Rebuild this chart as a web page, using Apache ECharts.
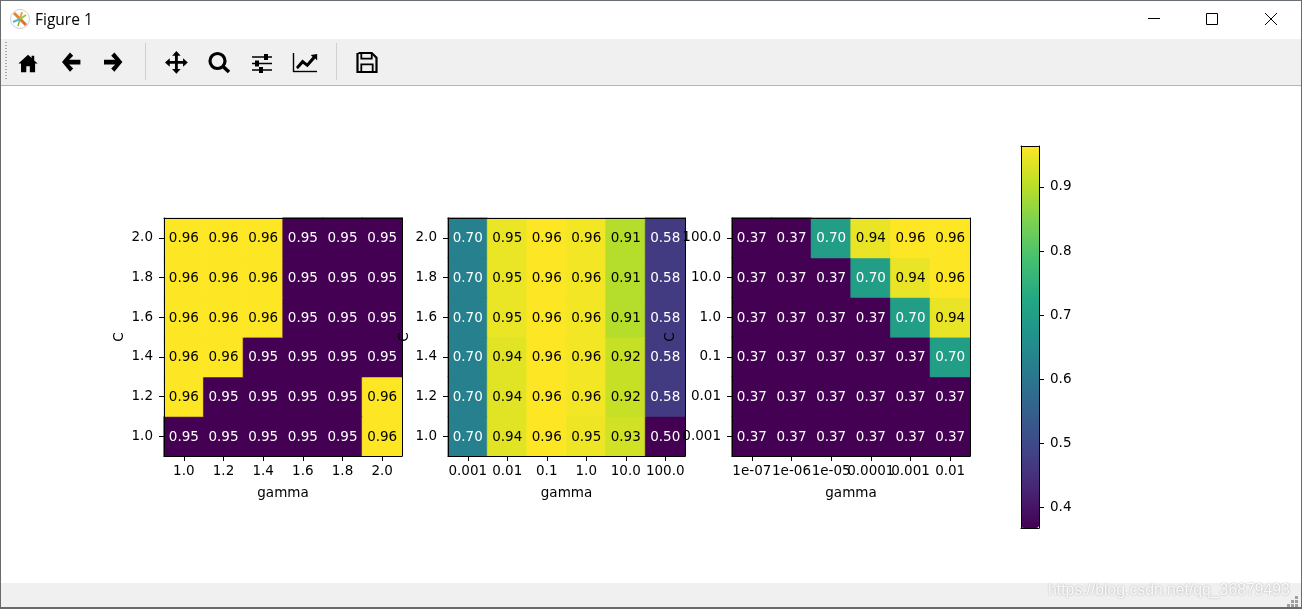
<!DOCTYPE html>
<html>
<head>
<meta charset="utf-8">
<title>Figure 1</title>
<style>html,body{margin:0;padding:0;background:#fff;overflow:hidden}#c{width:1302px;height:609px}</style>
<script src="https://cdn.jsdelivr.net/npm/echarts@6/dist/echarts.min.js"></script>
</head>
<body>
<div id="c"></div>
<script>
// ---- tick labels ----
const gamma1 = ['1.0','1.2','1.4','1.6','1.8','2.0'];
const c1     = ['1.0','1.2','1.4','1.6','1.8','2.0'];
const gamma2 = ['0.001','0.01','0.1','1.0','10.0','100.0'];
const c2     = ['1.0','1.2','1.4','1.6','1.8','2.0'];
const gamma3 = ['1e-07','1e-06','1e-05','0.0001','0.001','0.01'];
const c3     = ['0.001','0.01','0.1','1.0','10.0','100.0'];
const colorbarTicks = [0.4,0.5,0.6,0.7,0.8,0.9];

// ---- values (rows listed bottom to top, as on the y axis) ----
const scores1 = [
  [0.95,0.95,0.95,0.95,0.95,0.96],
  [0.96,0.95,0.95,0.95,0.95,0.96],
  [0.96,0.96,0.95,0.95,0.95,0.95],
  [0.96,0.96,0.96,0.95,0.95,0.95],
  [0.96,0.96,0.96,0.95,0.95,0.95],
  [0.96,0.96,0.96,0.95,0.95,0.95]
];
const scores2 = [
  [0.70,0.944,0.964,0.953,0.932,0.50],
  [0.70,0.944,0.964,0.957,0.924,0.58],
  [0.70,0.944,0.964,0.957,0.924,0.58],
  [0.70,0.950,0.964,0.957,0.912,0.58],
  [0.70,0.950,0.964,0.957,0.912,0.58],
  [0.70,0.950,0.964,0.957,0.912,0.58]
];
const scores3 = [
  [0.3677,0.3677,0.3677,0.3677,0.3677,0.3677],
  [0.3677,0.3677,0.3677,0.3677,0.3677,0.3677],
  [0.3677,0.3677,0.3677,0.3677,0.3677,0.70],
  [0.3677,0.3677,0.3677,0.3677,0.70,0.945],
  [0.3677,0.3677,0.3677,0.70,0.945,0.964],
  [0.3677,0.3677,0.70,0.945,0.964,0.964]
];
const ranges = [[0.95,0.96],[0.50,0.964],[0.3677,0.964]];
const viridis = ['#440154','#482475','#414487','#355f8d','#2a788e','#21918c','#22a884','#44bf70','#7ad151','#bddf26','#fde725'];

const FONT = 'DejaVu Sans';
const FS = 13.5;
const panels = [
  {x:gamma1,y:c1,z:scores1,left:164,width:238,gap:38},
  {x:gamma2,y:c2,z:scores2,left:448,width:237,gap:37},
  {x:gamma3,y:c3,z:scores3,left:732,width:238,gap:55}
];
const TOP = 218, H = 238;
const grid=[], xAxis=[], yAxis=[], series=[], visualMap=[];
const line = {show:true,lineStyle:{color:'#000',width:1}};
const noBits = {axisTick:{show:false},axisLabel:{show:false},splitLine:{show:false},splitArea:{show:false}};

panels.forEach((p,i)=>{
  grid.push({left:p.left,top:TOP,width:p.width,height:H,containLabel:false});
  xAxis.push({type:'category',gridIndex:i,data:p.x,position:'bottom',z:6,
    name:'gamma',nameLocation:'middle',nameGap:30,nameTextStyle:{fontFamily:FONT,fontSize:FS,color:'#000'},
    axisLine:line,axisTick:{show:true,alignWithLabel:true,length:5,lineStyle:{color:'#000'}},
    axisLabel:{interval:0,hideOverlap:false,fontFamily:FONT,fontSize:FS,color:'#000',margin:8},
    splitLine:{show:false}});
  xAxis.push(Object.assign({type:'category',gridIndex:i,data:p.x,position:'top',z:6,axisLine:line},noBits));
  yAxis.push({type:'category',gridIndex:i,data:p.y,position:'left',z:6,
    name:'C',nameLocation:'middle',nameRotate:90,nameGap:p.gap,nameTextStyle:{fontFamily:FONT,fontSize:FS,color:'#000'},
    axisLine:line,axisTick:{show:true,alignWithLabel:true,length:5,lineStyle:{color:'#000'}},
    axisLabel:{interval:0,hideOverlap:false,fontFamily:FONT,fontSize:FS,color:'#000',margin:11,padding:[5,0,0,0]},
    splitLine:{show:false}});
  yAxis.push(Object.assign({type:'category',gridIndex:i,data:p.y,position:'right',z:6,axisLine:line},noBits));
  const [lo,hi]=ranges[i];
  const data=[];
  p.z.forEach((row,r)=>row.forEach((v,c)=>{
    const t=(v-lo)/(hi-lo);
    data.push({value:[c,r,v],label:{color:t>0.7?'#000':'#fff'},
      itemStyle:{borderColor:echarts.color.lerp(t,viridis),borderWidth:0.6}});
  }));
  series.push({type:'heatmap',xAxisIndex:i*2,yAxisIndex:i*2,data,z:2,silent:true,
    progressive:0,
    label:{show:true,fontFamily:FONT,fontSize:FS,offset:[0,1],formatter:o=>o.value[2].toFixed(2)},
    emphasis:{disabled:true}});
  const vm={type:'continuous',seriesIndex:i,dimension:2,min:lo,max:hi,inRange:{color:viridis},
    calculable:false,hoverLink:false,realtime:false,show:false};
  if(i===2){Object.assign(vm,{show:true,orient:'vertical',left:1021,top:146,itemWidth:18,itemHeight:382,padding:0,
    text:null,showLabel:false,z:3});}
  visualMap.push(vm);
});

// colorbar frame and scale
grid.push({left:1021,top:146,width:18,height:382});
const [cbMin,cbMax]=ranges[2];
xAxis.push(Object.assign({type:'category',gridIndex:3,data:[''],position:'bottom',z:6,axisLine:line},noBits));
xAxis.push(Object.assign({type:'category',gridIndex:3,data:[''],position:'top',z:6,axisLine:line},noBits));
yAxis.push({type:'value',gridIndex:3,position:'right',min:cbMin,max:cbMax,z:6,axisLine:line,
  axisTick:{show:true,length:5,lineStyle:{color:'#000'},customValues:colorbarTicks},
  axisLabel:{fontFamily:FONT,fontSize:FS,color:'#000',margin:11,padding:[5,0,0,0],formatter:v=>v.toFixed(1),customValues:colorbarTicks},
  splitLine:{show:false}});
yAxis.push({type:'value',gridIndex:3,position:'left',min:cbMin,max:cbMax,z:6,axisLine:line,axisTick:{show:false},axisLabel:{show:false},splitLine:{show:false}});

// ---- window chrome ----
const K='#000';
const rect=(x,y,w,h,fill)=>({type:'rect',shape:{x,y,width:w,height:h},style:{fill},silent:true,z:0});
const seg=(x1,y1,x2,y2,stroke,lineWidth)=>({type:'line',shape:{x1,y1,x2,y2},style:{stroke,lineWidth},silent:true,z:1});
const scale=(pts,x,y,s)=>pts.map(([a,b])=>[x+a*s,y+b*s]);
const poly=(pts,x,y,s)=>({type:'polygon',shape:{points:scale(pts,x,y,s)},style:{fill:K},silent:true,z:1});
const pline=(pts,x,y,s,lw)=>({type:'polyline',shape:{points:scale(pts,x,y,s)},style:{fill:'none',stroke:K,lineWidth:lw},silent:true,z:1});
const homePts=[[12,2],[1,12],[4,12],[4,22],[10,22],[10,15],[14,15],[14,22],[20,22],[20,12],[23,12],[19,8.5],[19,3],[16,3],[16,5.8]];
const backPts=[[10,0],[0,12],[10,24],[14,20],[9,15],[23,15],[23,9],[9,9],[14,4]];
const forwardPts=[[13,0],[23,12],[13,24],[9,20],[14,15],[0,15],[0,9],[14,9],[9,4]];
const movePts=[[12,0],[16.5,5],[13.5,5],[13.5,10.5],[19,10.5],[19,7.5],[24,12],[19,16.5],[19,13.5],[13.5,13.5],[13.5,19],[16.5,19],[12,24],[7.5,19],[10.5,19],[10.5,13.5],[5,13.5],[5,16.5],[0,12],[5,7.5],[5,10.5],[10.5,10.5],[10.5,5],[7.5,5]];
const trendPts=[[0,14],[7,6],[12,10],[18,3],[16,1],[23,0],[23,7],[21,5],[12.5,14.5],[7.5,10.5],[2,16.5]];
const chrome=[
  rect(0,39,1302,46,'#f0f0f0'),
  rect(0,85,1302,1,'#b4b4b4'),
  rect(0,583,1302,25,'#f0f0f0'),
  rect(0,0,1302,1,'#6a6f75'),
  rect(0,0,1,609,'#6a6a6a'),
  rect(1301,0,1,609,'#6a6a6a'),
  rect(0,607,1302,2,'#6a6a6a'),
  {type:'text',style:{text:'Figure 1',x:35,y:20.5,fill:'#000',font:'15.5px "Open Sans"',textVerticalAlign:'middle'},silent:true,z:1},
  // app icon
  {type:'circle',shape:{cx:20,cy:19,r:9.5},style:{fill:'#fff',stroke:'#cfcfcf',lineWidth:1},silent:true,z:1},
  seg(20,19,14,13,'#e8862e',3), seg(20,19,22,12,'#f0a040',2), seg(20,19,26,25,'#e0702a',3),
  seg(20,19,13,22,'#5ab4d8',2), seg(20,19,26,15,'#8cc850',2), seg(20,19,18,26,'#80b840',1.5),
  // window buttons
  seg(1148,18.5,1160,18.5,'#000',1),
  {type:'rect',shape:{x:1206.5,y:13.5,width:11,height:11},style:{fill:'none',stroke:'#000',lineWidth:1},silent:true,z:1},
  seg(1265,13,1277,25,'#000',1), seg(1277,13,1265,25,'#000',1),
  // toolbar separators
  rect(145,43,1,37,'#d0d0d0'), rect(336,43,1,37,'#d0d0d0'),
  // toolbar icons
  poly(homePts,17.5,53,0.88),
  poly(backPts,62,52.5,0.8),
  poly(forwardPts,104,52.5,0.8),
  poly(movePts,165,51,0.95),
  {type:'circle',shape:{cx:217.5,cy:61,r:7.5},style:{fill:'none',stroke:K,lineWidth:3.2},silent:true,z:1},
  seg(222.5,66,229,72,K,3.6),
  seg(252,57,272,57,K,1.5), seg(252,63.5,272,63.5,K,1.5), seg(252,70,272,70,K,1.5),
  rect(264,54,4,6,K), rect(255,60.5,4,6,K), rect(259,67,4,6,K),
  seg(293.5,53,293.5,72,K,1.4), seg(293,71.5,317,71.5,K,1.4),
  poly(trendPts,296,54,0.92),
  pline([[1,0],[15,0],[20,5],[20,20],[0,20],[0,0]],357.5,53,0.95,2.2),
  pline([[4,0],[4,6],[15,6],[15,0]],357.5,53,0.95,1.8),
  pline([[4,20],[4,12],[16,12],[16,20]],357.5,53,0.95,1.8),
  // watermark
  {type:'text',style:{text:'https://blog.csdn.net/qq_36879493',x:1048,y:591,fill:'rgba(255,255,255,0.9)',font:'15.75px "Liberation Sans"',textVerticalAlign:'middle',textShadowColor:'rgba(0,0,0,0.35)',textShadowBlur:2},silent:true,z:1}
];
// toolbar grip and resize grip
[42,45,48,51,54,57,60,63,66,69,72,75,78].forEach(y=>chrome.push(rect(5,y,2,1,'#a8a8a8')));
[[1295,597],[1291,601],[1295,601],[1287,605],[1291,605],[1295,605]].forEach(([x,y])=>chrome.push(rect(x,y-1,3,3,'#a0a0a0')));

const chart=echarts.init(document.getElementById('c'),null,{renderer:'canvas'});
chart.setOption({
  animation:false,backgroundColor:'#fff',tooltip:{show:false},
  grid,xAxis,yAxis,series,visualMap,graphic:{elements:chrome}
});
</script>
</body>
</html>
